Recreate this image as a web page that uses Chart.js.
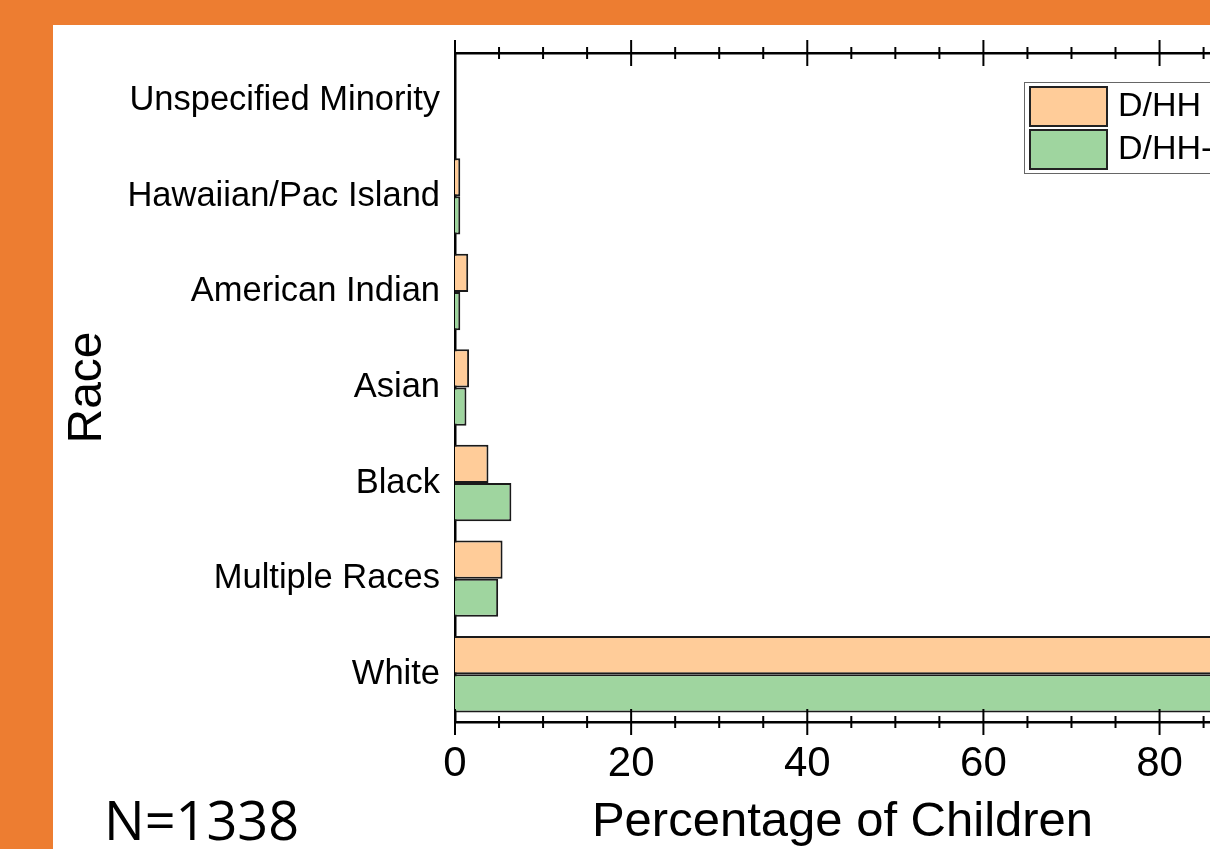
<!DOCTYPE html>
<html lang="en">
<head>
    <meta charset="UTF-8">
    <title>Race of children</title>
    <script src="https://cdn.jsdelivr.net/npm/chart.js"></script>
    <style>
        html, body {
            margin: 0;
            padding: 0;
            width: 1210px;
            height: 849px;
            overflow: hidden;
            background: #ED7D31;
        }
        #panel {
            position: absolute;
            left: 53px;
            top: 25px;
            width: 1157px;
            height: 824px;
            background: #fff;
        }
        #myChart {
            position: absolute;
            left: 0;
            top: 0;
        }
        #note {
            position: absolute;
            left: 104px;
            top: 792px;
            font-family: 'Open Sans', sans-serif;
            font-size: 54px;
            line-height: 54px;
            color: #000;
        }
    </style>
</head>
<body>

<div id="panel"></div>
<canvas id="myChart" width="1260" height="849"></canvas>
<div id="note">N=1338</div>

<script>
    const categories = ['Unspecified Minority', 'Hawaiian/Pac Island', 'American Indian', 'Asian', 'Black', 'Multiple Races', 'White'];
    const seriesNames = ['D/HH', 'D/HH-CI'];
    const dhh = [0, 0.6, 1.5, 1.6, 3.8, 5.4, 87.1];
    const dhhCi = [0, 0.6, 0.6, 1.3, 6.4, 4.9, 86.2];
    const xTicks = [0, 20, 40, 60, 80];

    const fontFamily = "'Liberation Sans', Arial, sans-serif";
    Chart.defaults.font.family = fontFamily;
    Chart.defaults.color = '#000';

    // inward + outward ticks, majors every 20, minors every 5
    const axisTicks = {
        id: 'axisTicks',
        afterDraw(chart) {
            const ctx = chart.ctx;
            ctx.save();
            ctx.strokeStyle = '#000';
            ctx.lineWidth = 2;
            ['x', 'x2'].forEach(id => {
                const s = chart.scales[id];
                const yAxis = id === 'x' ? s.top : s.bottom;
                for (let v = 0; v <= s.max; v += 5) {
                    const px = s.getPixelForValue(v);
                    const len = xTicks.includes(v) ? 13 : 6;
                    ctx.beginPath();
                    ctx.moveTo(px, yAxis - len);
                    ctx.lineTo(px, yAxis + len);
                    ctx.stroke();
                }
            });
            ctx.restore();
        }
    };

    // boxed legend inside the plot, like the original
    const legendBox = {
        id: 'legendBox',
        afterDraw(chart) {
            const ctx = chart.ctx;
            const a = chart.chartArea;
            const x0 = a.left + 569, y0 = a.top + 29;
            ctx.save();
            ctx.fillStyle = '#fff';
            ctx.fillRect(x0, y0, 240, 91);
            ctx.strokeStyle = '#666';
            ctx.lineWidth = 1;
            ctx.strokeRect(x0 + 0.5, y0 + 0.5, 240, 91);
            chart.data.datasets.forEach((ds, i) => {
                const sy = y0 + 5 + i * 43;
                ctx.fillStyle = ds.backgroundColor;
                ctx.fillRect(x0 + 6, sy, 77, 39);
                ctx.strokeStyle = '#222';
                ctx.lineWidth = 2;
                ctx.strokeRect(x0 + 6, sy, 77, 39);
                ctx.fillStyle = '#000';
                ctx.font = '34px ' + fontFamily;
                ctx.textBaseline = 'middle';
                ctx.fillText(ds.label, x0 + 94, sy + 20);
            });
            ctx.restore();
        }
    };

    const ctx = document.getElementById('myChart').getContext('2d');
    const chart = new Chart(ctx, {
        type: 'bar',
        data: {
            labels: categories,
            datasets: [{
                label: seriesNames[0],
                data: dhh,
                backgroundColor: '#FFCC99',
                borderColor: '#1a1a1a',
                borderWidth: 2,
                barPercentage: 1,
                categoryPercentage: 0.8
            }, {
                label: seriesNames[1],
                data: dhhCi,
                backgroundColor: '#9FD59F',
                borderColor: '#1a1a1a',
                borderWidth: 2,
                barPercentage: 1,
                categoryPercentage: 0.8
            }]
        },
        options: {
            indexAxis: 'y',
            responsive: false,
            animation: false,
            layout: { padding: { left: 0, top: 0, right: 30, bottom: 0 } },
            plugins: {
                legend: { display: false },
                tooltip: { enabled: false }
            },
            scales: {
                y: {
                    type: 'category',
                    position: 'left',
                    z: 1,
                    grid: { display: false, drawTicks: false },
                    border: { display: true, color: '#000', width: 2.5 },
                    ticks: { font: { size: 34.5 }, padding: 15, color: '#000' },
                    title: { display: true, text: 'Race', font: { size: 48 }, padding: { top: 59, bottom: 0 }, color: '#000' },
                    afterFit(s) { s.width = 455; }
                },
                x: {
                    type: 'linear',
                    position: 'bottom',
                    min: 0,
                    max: 88,
                    z: 1,
                    grid: { display: false, drawTicks: false },
                    border: { display: true, color: '#000', width: 2.5 },
                    ticks: {
                        stepSize: 20,
                        includeBounds: false,
                        font: { size: 42 },
                        padding: 17,
                        color: '#000'
                    },
                    title: { display: true, text: 'Percentage of Children', font: { size: 49 }, padding: { top: 0, bottom: -3 }, color: '#000' },
                    afterFit(s) { s.height = 127; }
                },
                x2: {
                    type: 'linear',
                    position: 'top',
                    display: true,
                    min: 0,
                    max: 88,
                    z: 1,
                    grid: { display: false, drawTicks: false },
                    border: { display: true, color: '#000', width: 2.5 },
                    ticks: { display: false },
                    afterFit(s) { s.height = 53; }
                }
            }
        },
        plugins: [axisTicks, legendBox]
    });
</script>

</body>
</html>
